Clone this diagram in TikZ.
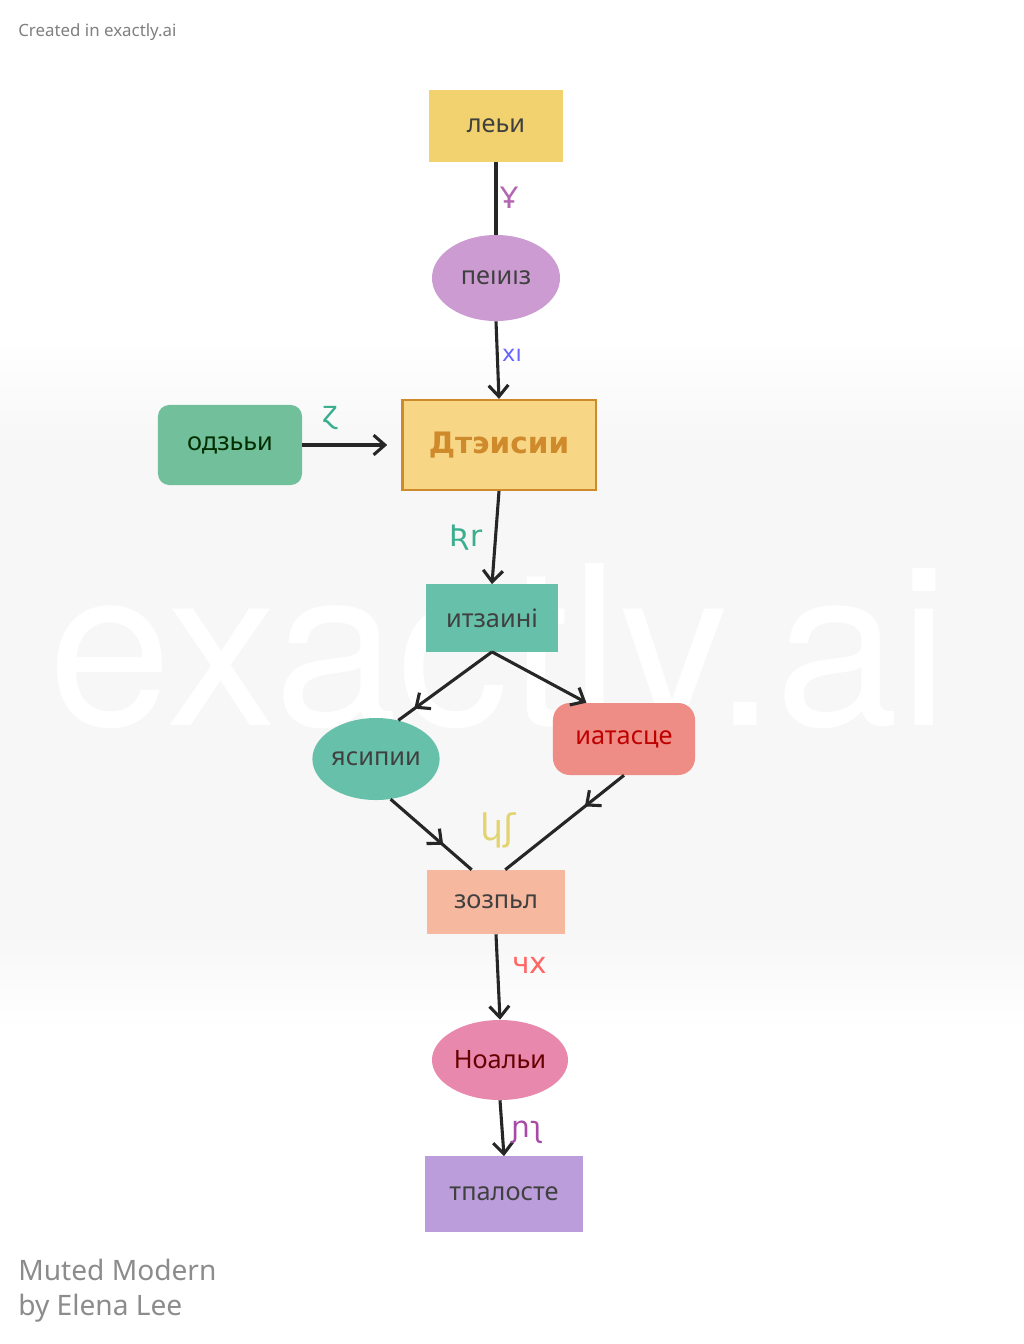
\documentclass[tikz,border=0pt]{standalone}
\usepackage{fontspec}
\setmainfont{Noto Sans}
\newfontfamily\lblfont{DejaVu Sans}
\newfontfamily\markfont{TeX Gyre Heros}
\usetikzlibrary{arrows.meta,shapes.geometric,decorations.markings}

\definecolor{lebyel}{HTML}{F1D26E}
\definecolor{peipur}{HTML}{CB9BD2}
\definecolor{dtafill}{HTML}{F7D685}
\definecolor{dtaline}{HTML}{CF8A2C}
\definecolor{odzgrn}{HTML}{72BF9B}
\definecolor{itzteal}{HTML}{67C1AA}
\definecolor{iatred}{HTML}{EE8C86}
\definecolor{zozpch}{HTML}{F6B89E}
\definecolor{noapnk}{HTML}{E888AC}
\definecolor{tpapur}{HTML}{BA9DDA}
\definecolor{lblgrn}{HTML}{3AAE8E}
\definecolor{lblyel}{HTML}{E3D472}

\begin{document}
\begin{tikzpicture}[x=0.025cm,y=-0.025cm]
\tikzset{box/.style={rectangle,inner sep=0pt,font=\fontsize{18}{21}\selectfont,text=black!75}}
\tikzset{blob/.style={ellipse,inner sep=0pt,font=\fontsize{18}{21}\selectfont,text=black!75}}
\tikzset{lbl/.style={font=\lblfont\fontsize{21}{24}\selectfont}}
\tikzset{link/.style={line width=2.2pt,draw=black!85,-{Straight Barb[length=8pt,width=14pt,line width=2.2pt]}}}
\tikzset{arrowat/.style={line width=2.2pt,draw=black!85,postaction={decorate},
  decoration={markings,mark=at position #1 with {\arrow{Straight Barb[length=8pt,width=14pt,line width=2.2pt]}}}}}

\useasboundingbox (0,0) rectangle (1024,1344);
\fill[white] (0,0) rectangle (1024,1344);
\shade[top color=white,bottom color=black!3] (0,340) rectangle (1024,440);
\fill[black!3] (0,440) rectangle (1024,940);
\shade[top color=black!3,bottom color=white] (0,940) rectangle (1024,1030);
\node[anchor=base west,font=\markfont\fontsize{158}{160}\selectfont,text=white,inner sep=0pt] (wmark) at (48,725) {exactly.ai};

\node[anchor=west,font=\fontsize{12}{14}\selectfont,text=black!50,inner sep=0pt] (made) at (18,32) {Created in exactly.ai};
\node[anchor=west,font=\fontsize{20}{24}\selectfont,text=black!45,inner sep=0pt] (style) at (18,1270) {Muted Modern};
\node[anchor=west,font=\fontsize{20}{24}\selectfont,text=black!45,inner sep=0pt] (author) at (18,1308) {by Elena Lee};

% nodes
\node[box,fill=lebyel,minimum width=3.33cm,minimum height=1.8cm] (leb) at (496,126) {леьи};
\node[blob,fill=peipur,minimum width=3.2cm,minimum height=2.15cm] (pei) at (496,278) {пеıиıз};
\node[box,fill=dtafill,draw=dtaline,line width=1.6pt,minimum width=4.83cm,minimum height=2.25cm,
  font=\lblfont\bfseries\fontsize{21}{25}\selectfont,text=dtaline] (dta) at (499,445) {Дтэисии};
\node[box,fill=odzgrn,rounded corners=8pt,minimum width=3.6cm,minimum height=2.0cm,text=black!70!green!60!black] (odz) at (230,445) {одзььи};
\node[box,fill=itzteal,minimum width=3.3cm,minimum height=1.68cm] (itz) at (492,618) {итзаині};
\node[blob,fill=itzteal,minimum width=3.18cm,minimum height=2.05cm] (yas) at (376,759) {ясипии};
\node[box,fill=iatred,rounded corners=12pt,minimum width=3.55cm,minimum height=1.8cm,text=red!75!black] (iat) at (624,739) {иатасце};
\node[box,fill=zozpch,minimum width=3.45cm,minimum height=1.6cm] (zoz) at (496,902) {зозпьл};
\node[blob,fill=noapnk,minimum width=3.4cm,minimum height=2.0cm,text=red!40!black] (noa) at (500,1060) {Ноальи};
\node[box,fill=tpapur,minimum width=3.95cm,minimum height=1.88cm] (tpa) at (504,1194) {тпалосте};

% connectors
\draw[line width=2.2pt,draw=black!85] (leb.south) -- (pei.north);
\draw[link] (pei.south) -- (dta.north);
\draw[link] (odz.east) -- ([xshift=-10]dta.west);
\draw[link] (dta.south) -- (itz.north);
\draw[arrowat=0.83] (itz.south) -- (yas.60);
\draw[link] (itz.south) -- (iat.136);
\draw[arrowat=0.65] (yas.-70) -- (zoz.127);
\draw[arrowat=0.33] (iat.south) -- (zoz.74);
\draw[link] (zoz.south) -- (noa.north);
\draw[link] (noa.south) -- (tpa.north);

% labels
\node[lbl,text=violet!60] (l1) at (510,198) {Ұ};
\node[lbl,text=blue!60,font=\lblfont\fontsize{16}{18}\selectfont] (l2) at (512,355) {хı};
\node[lbl,text=lblgrn] (l3) at (330,418) {ɀ};
\node[lbl,text=lblgrn] (l4) at (466,538) {Ʀr};
\node[lbl,text=lblyel,font=\lblfont\fontsize{26}{30}\selectfont] (l5) at (498,830) {կʃ};
\node[lbl,text=red!60] (l6) at (530,965) {чx};
\node[lbl,text=violet!70] (l7) at (528,1132) {ɲʅ};
\end{tikzpicture}
\end{document}
